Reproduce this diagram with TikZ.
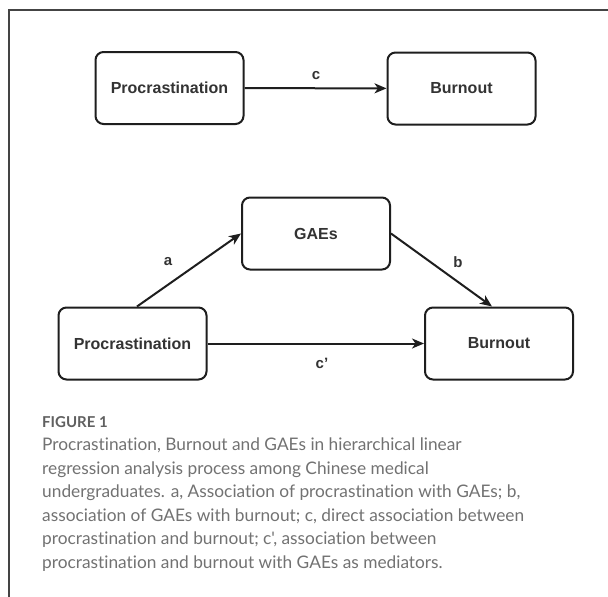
\documentclass[tikz,border=0pt]{standalone}
\usepackage{fontspec}
\setmainfont{Liberation Sans}
\newfontfamily\capfont[Ligatures={NoCommon}]{Lato}
\usetikzlibrary{arrows.meta}
\definecolor{boxline}{HTML}{1E1E1E}
\definecolor{boxtext}{HTML}{333333}
\definecolor{captxt}{HTML}{727272}
\definecolor{capbold}{HTML}{606060}
\definecolor{frameclr}{HTML}{444444}
\begin{document}
\begin{tikzpicture}[x=1pt,y=-1pt,
  box/.style={draw=boxline, line width=2pt, rounded corners=8pt, minimum width=148pt, minimum height=72pt, inner sep=0pt, font=\fontsize{16}{18}\selectfont\bfseries, text=boxtext},
  conn/.style={draw=boxline, line width=2pt, -{Stealth[length=12pt,width=10pt,inset=3.5pt]}},
  lbl/.style={font=\fontsize{15}{17}\selectfont\bfseries, text=boxtext},
  capline/.style={anchor=base west, inner sep=0pt, font=\capfont\fontsize{17.3}{20}\selectfont, text=captxt},
]
\useasboundingbox (0,0) rectangle (608,597);
\fill[white] (0,0) rectangle (608,597);
\draw[frameclr, line width=1.2pt] (9,597) -- (9,10) -- (608,10);

\node[box] (p1) at (169.5,88) {Procrastination};
\node[box] (b1) at (461.5,88.5) {Burnout};
\node[box] (g) at (316,233.5) {GAEs};
\node[box] (p2) at (132.5,343.5) {Procrastination};
\node[box] (b2) at (499,343.5) {Burnout};

\draw[conn] (p1) -- (b1);
\draw[conn] ([xshift=4.5pt]p2.north) -- (g.west);
\draw[conn] (g.east) -- ([xshift=-7pt]b2.north);
\draw[conn] (p2) -- (b2);

\node[lbl] (lc) at (316,76) {c};
\node[lbl] (la) at (168,262) {a};
\node[lbl] (lb) at (458,262) {b};
\node[lbl] (lcp) at (322,363) {c'};

\node[anchor=base west, inner sep=0pt, font=\capfont\bfseries\fontsize{15}{17}\selectfont, text=capbold] (fig) at (42,427) {FIGURE 1};
\node[capline] (c1) at (42,450.7) {Procrastination, Burnout and GAEs in hierarchical linear};
\node[capline] (c2) at (42,474.2) {regression analysis process among Chinese medical};
\node[capline] (c3) at (42,497.7) {undergraduates. a, Association of procrastination with GAEs; b,};
\node[capline] (c4) at (42,521.2) {association of GAEs with burnout; c, direct association between};
\node[capline] (c5) at (42,544.7) {procrastination and burnout; c', association between};
\node[capline] (c6) at (42,568.2) {procrastination and burnout with GAEs as mediators.};
\end{tikzpicture}
\end{document}
